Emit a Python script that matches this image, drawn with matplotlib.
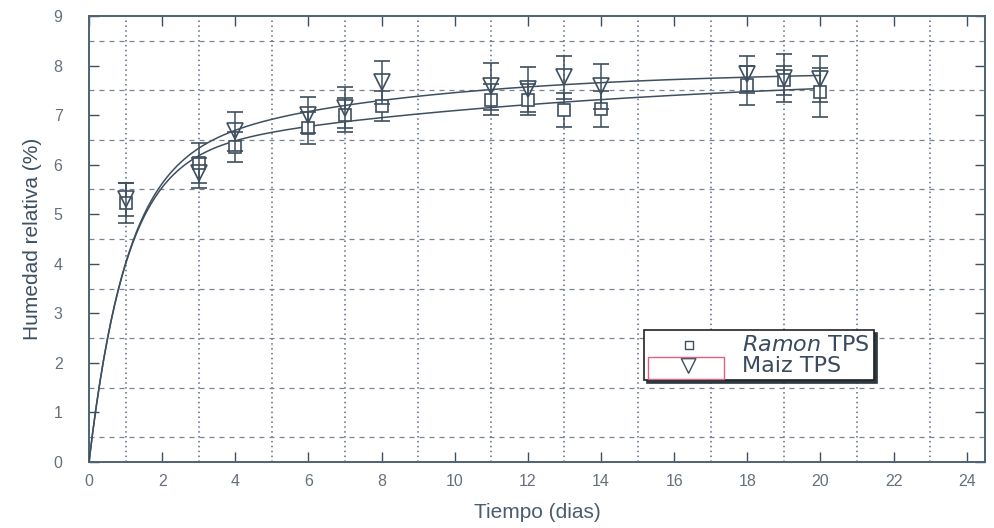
import numpy as np
import matplotlib
matplotlib.use("Agg")
import matplotlib.pyplot as plt
from matplotlib.patches import Rectangle

# measured data (days, relative humidity %)
dias = [1, 3, 4, 6, 7, 8, 11, 12, 13, 14, 18, 19, 20]
ramon = [5.22, 6.03, 6.35, 6.74, 7.0, 7.18, 7.31, 7.31, 7.11, 7.13, 7.6, 7.7, 7.46]
ramon_err = [0.4, 0.4, 0.3, 0.33, 0.35, 0.3, 0.31, 0.31, 0.34, 0.36, 0.39, 0.3, 0.49]
maiz = [5.3, 5.83, 6.67, 7.0, 7.15, 7.66, 7.58, 7.52, 7.76, 7.58, 7.82, 7.75, 7.73]
maiz_err = [0.33, 0.31, 0.39, 0.36, 0.41, 0.44, 0.48, 0.46, 0.44, 0.45, 0.38, 0.49, 0.47]

# fitted model parameters: y = a(1-exp(-k1 t)) + b(1-exp(-k2 t))
fit_ramon = (6.1, 1.0, 1.8, 0.08)
fit_maiz = (5.9, 1.0, 2.0, 0.15)

ink = "#3e4f60"
txt = "#66707c"


def model(t, p):
    a, k1, b, k2 = p
    return a * (1 - np.exp(-k1 * t)) + b * (1 - np.exp(-k2 * t))


plt.rcParams["font.family"] = ["Liberation Sans", "DejaVu Sans"]
fig = plt.figure(figsize=(9.95, 5.28), dpi=100)
ax = fig.add_axes([89 / 995, 66 / 528, 896 / 995, 446 / 528])

t = np.linspace(0, 20, 400)
ax.plot(t, model(t, fit_ramon), color=ink, lw=1.1, zorder=3)
ax.plot(t, model(t, fit_maiz), color=ink, lw=1.1, zorder=3)

ax.errorbar(dias, ramon, yerr=ramon_err, fmt="s", ms=9, mfc="white", mec=ink,
            mew=1.2, ecolor=ink, elinewidth=1.1, capsize=6, capthick=1.1, zorder=4)
ax.errorbar(dias, maiz, yerr=maiz_err, fmt="v", ms=12, mfc="none", mec=ink,
            mew=1.2, ecolor=ink, elinewidth=1.1, capsize=6, capthick=1.1, zorder=5)

ax.set_xlim(0, 24.5)
ax.set_ylim(0, 9)
ax.set_xticks(range(0, 25, 2))
ax.set_yticks(range(0, 10))
ax.set_xticks(np.arange(1, 24, 2), minor=True)
ax.set_yticks(np.arange(0.5, 9, 1), minor=True)
ax.grid(which="minor", axis="x", color="#5a6a80", ls=(0, (1, 2.2)), lw=1.1)
ax.grid(which="minor", axis="y", color="#7a8494", ls=(0, (4, 4)), lw=0.9)
ax.tick_params(which="major", direction="in", length=7, width=1, color=ink,
               top=True, right=True, labelsize=11.5, labelcolor=txt)
ax.tick_params(which="minor", direction="in", length=0, top=True, right=True)
ax.tick_params(axis="y", which="major", pad=19)
ax.tick_params(axis="x", which="major", pad=9)
for s in ax.spines.values():
    s.set_color("#4d6275")
    s.set_linewidth(1.4)

ax.set_xlabel("Tiempo (dias)", fontsize=15, color="#4a5c6e", labelpad=10)
ax.set_ylabel("Humedad relativa (%)", fontsize=15, color="#3d5060", labelpad=8,
              family=["Liberation Sans Narrow", "Liberation Sans", "DejaVu Sans"])

# legend with shadow
h1 = ax.scatter([], [], marker="s", s=30, facecolor="white", edgecolor=ink, lw=1.0)
h2 = ax.scatter([], [], marker="v", s=110, facecolor="none", edgecolor=ink, lw=1.0)
leg = ax.legend([h1, h2], [r"$\it{Ramon}$ TPS", "Maiz TPS"], loc="lower left",
                bbox_to_anchor=(15.18 / 24.5, 1.65 / 9), frameon=True,
                shadow={"color": "#2b3a40", "alpha": 1.0}, fancybox=False,
                borderpad=0.2, labelspacing=0.05, handletextpad=0.6,
                handlelength=3.6, borderaxespad=0,
                prop={"family": "DejaVu Sans", "size": 16})
leg.get_frame().set_edgecolor("#222222")
leg.get_frame().set_linewidth(1.2)
for tx in leg.get_texts():
    tx.set_color("#3a4a5e")

ax.add_patch(Rectangle((15.29, 1.67), 2.08, 0.45, fill=False, ec="#e06080",
                       lw=1.0, zorder=10))

fig.savefig("out.png", dpi=100)
